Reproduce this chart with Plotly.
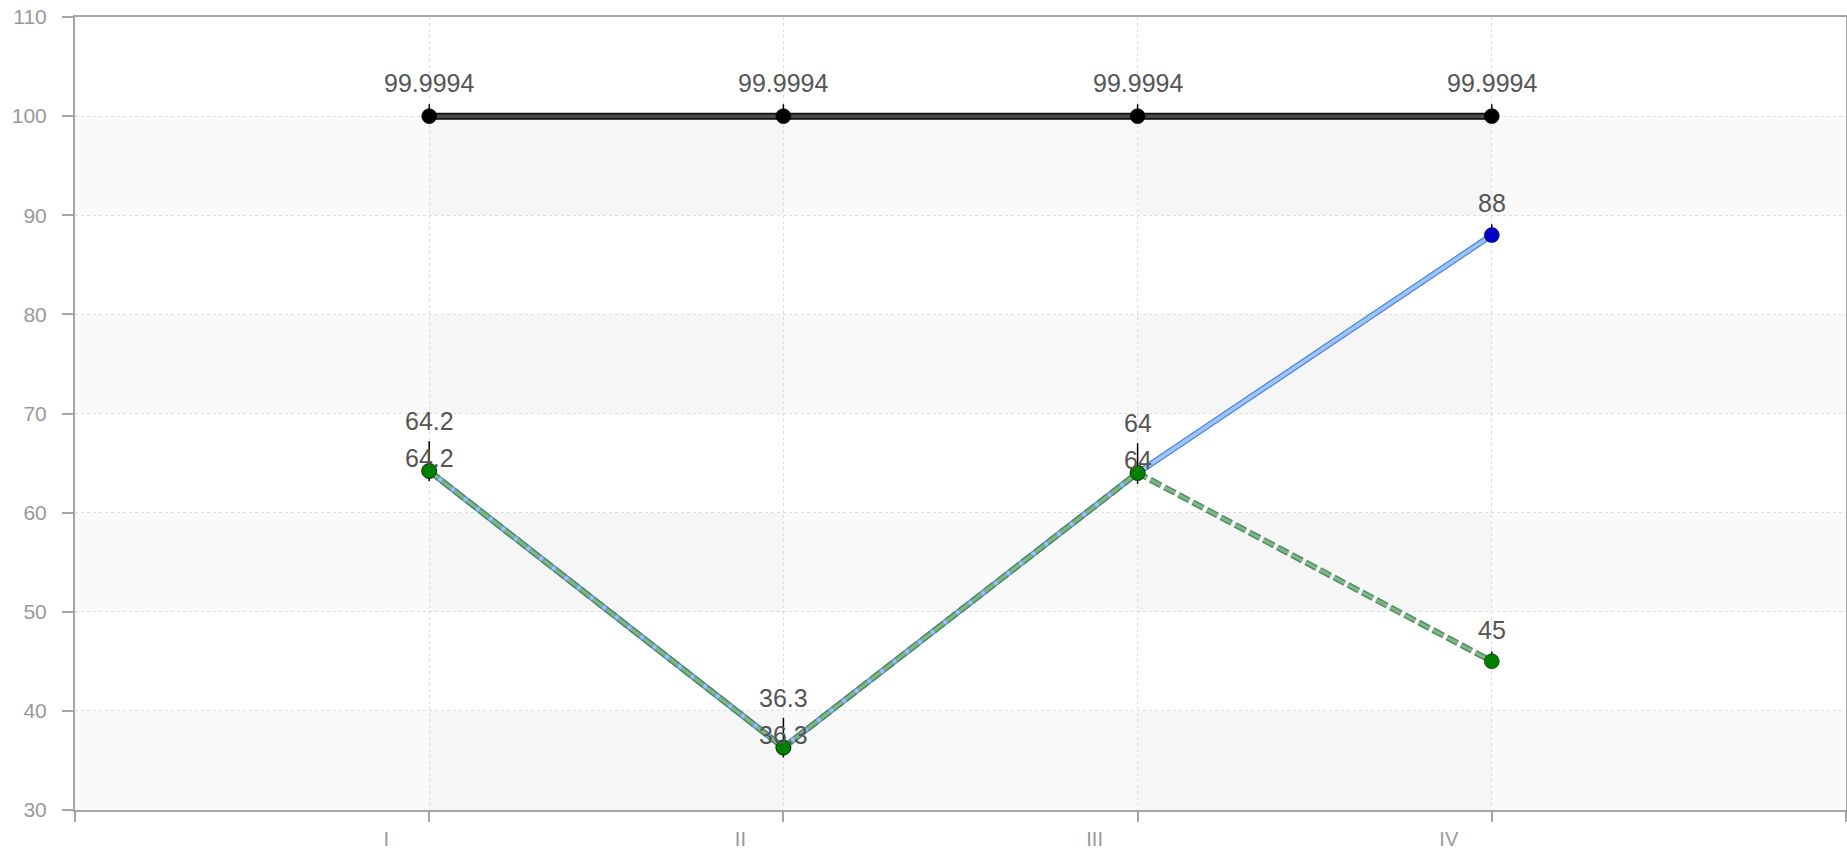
import plotly.graph_objects as go

categories = ["I", "II", "III", "IV"]
top_values = [99.9994, 99.9994, 99.9994, 99.9994]
blue_values = [64.2, 36.3, 64, 88]
green_values = [64.2, 36.3, 64, 45]
top_err_up = [1.2, 1.2, 1.2, 1.2]
top_err_down = [0, 0, 0, 0]
blue_err_up = [3, 3, 3, 1.1]
blue_err_down = [1, 1, 1.1, 0.6]
green_err_up = [0, 0, 0, 1.0]
green_err_down = [0, 0, 0, 0]
y_ticks = [30, 40, 50, 60, 70, 80, 90, 100, 110]

xs = [i + 1 for i in range(len(categories))]
x_min, x_max = 0, len(categories) + 1
FONT = "Liberation Sans, Arial, Helvetica, sans-serif"

fig = go.Figure()

# background bands
shapes = []
for i in range(len(y_ticks) - 1):
    lo, hi = y_ticks[i], y_ticks[i + 1]
    if i % 2 == 0:
        shapes.append(dict(type="rect", xref="x", yref="y", x0=x_min, x1=x_max, y0=lo, y1=hi,
                           fillcolor="#fafafa", line_width=0, layer="below"))
        for k in (1, 3):
            shapes.append(dict(type="rect", xref="x", yref="y", x0=xs[k - 1], x1=xs[k], y0=lo, y1=hi,
                               fillcolor="#f6f6f6", line_width=0, layer="below"))

def line_pair(y, outer, inner, wo, wi, dash, name):
    fig.add_trace(go.Scatter(x=xs, y=y, mode="lines", line=dict(color=outer, width=wo, dash=dash),
                             hoverinfo="skip", showlegend=False))
    fig.add_trace(go.Scatter(x=xs, y=y, mode="lines", line=dict(color=inner, width=wi, dash=dash),
                             hoverinfo="skip", showlegend=False, name=name))

def markers(y, color, up, down):
    fig.add_trace(go.Scatter(x=xs, y=y, mode="markers",
                             marker=dict(color=color, size=15, line=dict(color="rgba(0,0,0,0.5)", width=1)),
                             error_y=dict(type="data", symmetric=False, array=up, arrayminus=down,
                                          color="black", thickness=1.5, width=0),
                             showlegend=False))

line_pair(top_values, "#111111", "#4a4a4a", 7, 3.5, "solid", "top")
markers(top_values, "#000000", top_err_up, top_err_down)
line_pair(blue_values, "#4f86dd", "#9ec5f7", 6, 3.5, "solid", "blue")
markers(blue_values, "#0000c8", blue_err_up, blue_err_down)
line_pair(green_values, "#4e8f5e", "#82b48e", 6, 3, "12px,4px", "green")
markers(green_values, "#008000", green_err_up, green_err_down)

annotations = []
def add_labels(vals, shifts):
    for x, v, s in zip(xs, vals, shifts):
        annotations.append(dict(x=x, y=v, xref="x", yref="y", text=str(v), showarrow=False,
                                yshift=s, font=dict(family=FONT, size=25, color="#555555")))

add_labels(top_values, [33, 33, 33, 33])
blue_shifts = [50 if b == g else 32 for b, g in zip(blue_values, green_values)]
green_shifts = [13 if b == g else 31 for b, g in zip(blue_values, green_values)]
add_labels(blue_values, blue_shifts)
add_labels(green_values, green_shifts)

fig.update_layout(
    width=1847, height=858, autosize=False,
    margin=dict(l=75, r=1, t=17, b=48, autoexpand=False),
    paper_bgcolor="white",
    plot_bgcolor="white",
    shapes=shapes,
    annotations=annotations,
    font=dict(family=FONT),
)
fig.update_xaxes(
    range=[x_min, x_max], tickvals=list(range(x_min, x_max + 1)),
    ticktext=[""] + categories + [""],
    showline=True, linecolor="#a5a5a5", linewidth=2, mirror=True,
    ticks="outside", ticklen=10, tickwidth=2, tickcolor="#a5a5a5",
    showgrid=True, gridcolor="#dddddd", griddash="dot", gridwidth=1,
    zeroline=False, ticklabelshift=-43, automargin=False,
    tickfont=dict(family=FONT, size=20, color="#999999"),
)
fig.update_yaxes(
    range=[y_ticks[0], y_ticks[-1]], tickvals=y_ticks,
    showline=True, linecolor="#a5a5a5", linewidth=2, mirror=True,
    ticks="outside", ticklen=11, tickwidth=2, tickcolor="#a5a5a5",
    showgrid=True, gridcolor="#dddddd", griddash="dot", gridwidth=1,
    zeroline=False, ticklabelstandoff=11, automargin=False,
    tickfont=dict(family=FONT, size=21, color="#999999"),
)

fig.write_html(
    "out.html",
    config={"displayModeBar": False},
    post_script="document.body.style.margin='0';document.body.style.overflow='hidden';",
)
